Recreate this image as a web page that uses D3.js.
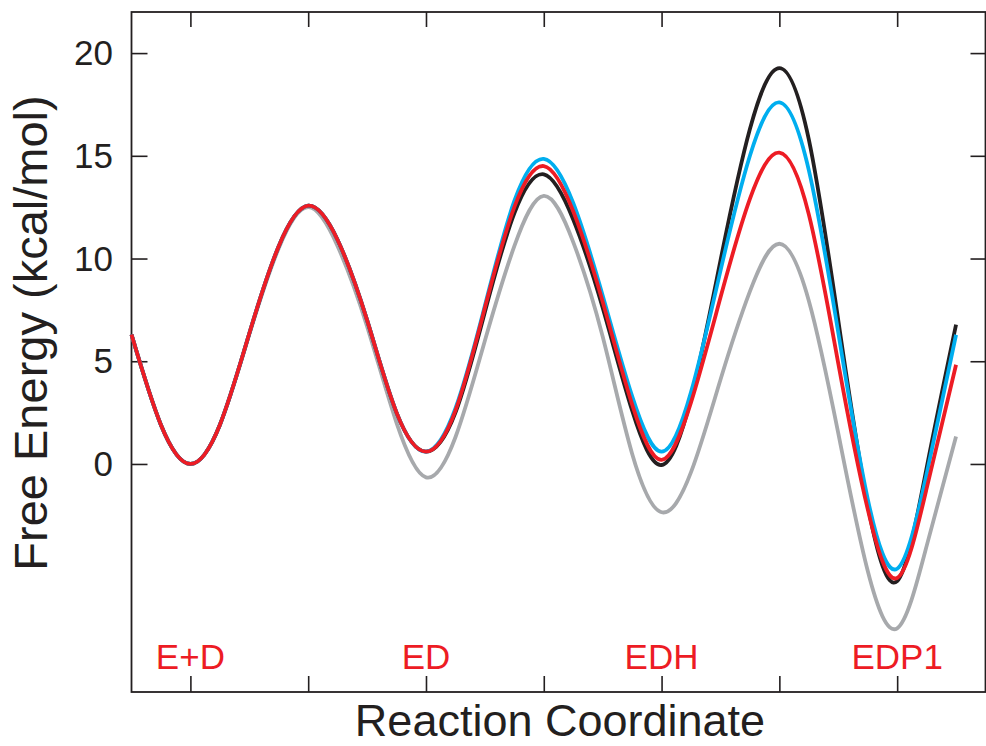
<!DOCTYPE html>
<html>
<head>
<meta charset="utf-8">
<script src="https://cdn.jsdelivr.net/npm/d3@7"></script>
<style>
  body { margin: 0; background: #fff; }
  text { font-family: "Liberation Sans", Arial, Helvetica, sans-serif; }
</style>
</head>
<body>
<div id="chart"></div>
<script>
// Reaction coordinate positions (quarter steps)
const coords = [0.5, 0.75, 1, 1.25, 1.5, 1.75, 2, 2.25, 2.5, 2.75, 3, 3.25, 3.5, 3.75, 4,
    4.25, 4.5, 4.75, 5, 5.25, 5.5, 5.75, 6, 6.25, 6.5, 6.75, 7, 7.25, 7.5];

// Free energy profiles (kcal/mol)
const grayVals = [6.3, 1.9, 0, 1.9, 6.3, 10.5, 12.5, 10.6, 6.7, 2.0, -0.65, 1.3, 6.0, 10.6, 13.05,
    10.8, 6.2, 0.5, -2.35, -0.4, 4.1, 8.4, 10.72, 7.95, 1.5, -5.2, -8.0, -4.0, 1.34];
const blackVals = [6.3, 1.9, 0, 1.9, 6.35, 10.6, 12.57, 10.9, 7.0, 2.5, 0.6, 2.5, 7.4, 12.2, 14.1,
    11.9, 7.6, 2.6, -0.05, 3.2, 9.9, 16.3, 19.27, 15.8, 7.0, -2.0, -5.7, -0.2, 6.78];
const blueVals = [6.3, 1.9, 0, 1.9, 6.35, 10.6, 12.57, 10.9, 7.0, 2.5, 0.6, 2.7, 7.7, 12.8, 14.85,
    12.7, 8.2, 3.3, 0.6, 3.5, 9.4, 15.0, 17.6, 14.3, 6.4, -1.7, -5.1, -0.5, 6.29];
const redVals = [6.3, 1.9, 0, 1.9, 6.35, 10.6, 12.57, 10.9, 7.0, 2.5, 0.6, 2.6, 7.6, 12.5, 14.5,
    12.3, 7.9, 2.9, 0.2, 3.0, 8.1, 12.9, 15.15, 12.15, 4.9, -2.2, -5.55, -1.2, 4.83];

// State labels and tick values
const stateNames = ["E+D", "ED", "EDH", "EDP1"];
const statePos = [1, 3, 5, 7];
const xTicks = [1, 2, 3, 4, 5, 6, 7];
const yTicks = [0, 5, 10, 15, 20];

const W = 986, H = 746;
const frame = {left: 131.5, right: 985.5, top: 12, bottom: 692};
const ink = "#231f20";

const svg = d3.select("#chart").append("svg")
    .attr("width", W)
    .attr("height", H);

// Scales
const x = d3.scaleLinear().domain([0.5, 7.75]).range([frame.left, frame.right]);
const y = d3.scaleLinear().domain([-11.1, 22]).range([frame.bottom, frame.top]);

// Axes, ticks pointing inward on all four sides
function styleAxis(g) {
    g.select(".domain").remove();
    g.selectAll(".tick line").attr("stroke", ink).attr("stroke-width", 1.6);
    g.selectAll(".tick text").remove();
}

svg.append("g")
    .attr("transform", `translate(0,${frame.bottom})`)
    .call(d3.axisBottom(x).tickValues(xTicks).tickSizeInner(-16).tickSizeOuter(0))
    .call(styleAxis);

svg.append("g")
    .attr("transform", `translate(0,${frame.top})`)
    .call(d3.axisTop(x).tickValues(xTicks).tickSizeInner(-15).tickSizeOuter(0))
    .call(styleAxis);

svg.append("g")
    .attr("transform", `translate(${frame.left},0)`)
    .call(d3.axisLeft(y).tickValues(yTicks).tickSizeInner(-16).tickSizeOuter(0))
    .call(styleAxis);

svg.append("g")
    .attr("transform", `translate(${frame.right},0)`)
    .call(d3.axisRight(y).tickValues(yTicks).tickSizeInner(-15).tickSizeOuter(0))
    .call(styleAxis);

// Frame
svg.append("rect")
    .attr("x", frame.left)
    .attr("y", frame.top)
    .attr("width", frame.right - frame.left)
    .attr("height", frame.bottom - frame.top)
    .attr("fill", "none")
    .attr("stroke", ink)
    .attr("stroke-width", 1.8);

// Y tick labels
svg.selectAll(".ylab")
    .data(yTicks)
    .enter().append("text")
    .attr("class", "ylab")
    .attr("x", 113)
    .attr("y", d => y(d))
    .attr("dy", "0.35em")
    .attr("text-anchor", "end")
    .attr("font-size", 35)
    .attr("fill", ink)
    .text(d => d);

// State labels
svg.selectAll(".state")
    .data(stateNames)
    .enter().append("text")
    .attr("class", "state")
    .attr("x", (d, i) => x(statePos[i]))
    .attr("y", 669)
    .attr("text-anchor", "middle")
    .attr("font-size", 35)
    .attr("fill", "#ed1c24")
    .text(d => d);

// Axis titles
svg.append("text")
    .attr("x", 560)
    .attr("y", 736)
    .attr("text-anchor", "middle")
    .attr("font-size", 45)
    .attr("fill", ink)
    .text("Reaction Coordinate");

svg.append("text")
    .attr("transform", `translate(47,${(88 + 578) / 2}) rotate(-90)`)
    .attr("text-anchor", "middle")
    .attr("font-size", 47)
    .attr("fill", ink)
    .text("Free Energy (kcal/mol)");

// Line generator
const line = d3.line()
    .x((d, i) => x(coords[i]))
    .y(d => y(d))
    .curve(d3.curveNatural);

const series = [
    {vals: grayVals, color: "#a7a9ac"},
    {vals: blackVals, color: "#231f20"},
    {vals: blueVals, color: "#00aeef"},
    {vals: redVals, color: "#ed1c24"}
];

svg.selectAll(".line")
    .data(series)
    .enter().append("path")
    .attr("class", "line")
    .attr("fill", "none")
    .attr("stroke", d => d.color)
    .attr("stroke-width", 3.8)
    .attr("stroke-linejoin", "round")
    .attr("d", d => line(d.vals));
</script>
</body>
</html>
